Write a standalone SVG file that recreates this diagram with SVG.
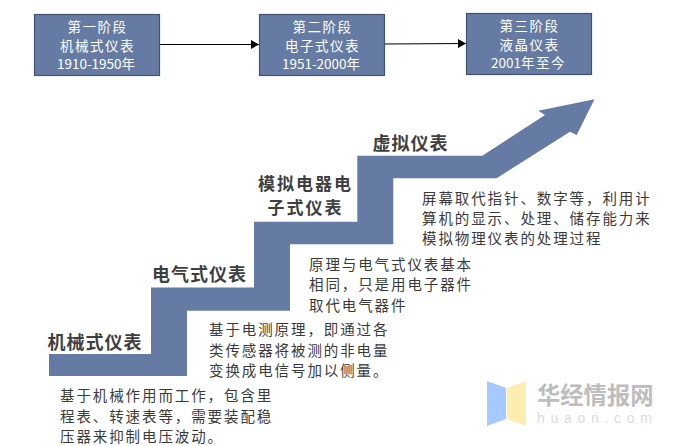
<svg xmlns="http://www.w3.org/2000/svg" width="676" height="446" viewBox="0 0 676 446">
<style>
text{font-family:"Noto Sans CJK SC","Noto Sans",sans-serif}
.box{fill:#667ba3;stroke:#435272;stroke-width:1.2}
.bt{fill:#fff;font-size:13.5px;text-anchor:middle}
.cj{letter-spacing:1.5px}
.lb{fill:#3f3f3f;font-size:18px;font-weight:700;text-anchor:middle;letter-spacing:1px}
.lb2{font-size:17px;letter-spacing:2px}
.d{fill:#3a3a3a;font-size:14.5px;letter-spacing:1.9px}
</style>
<defs><marker id="ah" markerWidth="9" markerHeight="9" refX="8" refY="4.5" orient="auto" markerUnits="userSpaceOnUse"><path d="M0 0L8 4.5L0 9z" fill="#000"/></marker></defs>
<rect width="676" height="446" fill="#fff"/>
<g id="connectors">
<line x1="159.5" y1="44.5" x2="259" y2="44.5" stroke="#000" stroke-width="1.2" marker-end="url(#ah)"/>
<line x1="385" y1="44" x2="466" y2="43.5" stroke="#000" stroke-width="1.2" marker-end="url(#ah)"/>
</g>
<g id="stage1"><rect class="box" x="34.5" y="14.5" width="125" height="61"/>
<text class="bt cj" x="97.5" y="32">第一阶段</text><text class="bt cj" x="97.5" y="50.7">机械式仪表</text><text class="bt" x="96" y="69">1910-1950年</text></g>
<g id="stage2"><rect class="box" x="259.5" y="14.5" width="125" height="61"/>
<text class="bt cj" x="322.5" y="32">第二阶段</text><text class="bt cj" x="322.5" y="50.7">电子式仪表</text><text class="bt" x="321" y="69">1951-2000年</text></g>
<g id="stage3"><rect class="box" x="466.5" y="13.5" width="125" height="61"/>
<text class="bt cj" x="529.5" y="31">第三阶段</text><text class="bt cj" x="529.5" y="49.7">液晶仪表</text><text class="bt" x="528.5" y="68">2001<tspan class="cj">年至今</tspan></text></g>
<path id="stair" fill="#667ba3" d="M49 354H151V287.5H254V221.7H357.3V155.7H482.3L545 115L538.3 110.7L594.5 99.3L576.7 135L570 131.7L496.7 178.3H393.3V244.3H290V310.7H187V376H49Z"/>
<g id="n1"><text class="lb" x="95" y="348.5">机械式仪表</text>
<text class="d" x="60" y="400.5">基于机械作用而工作，包含里</text><text class="d" x="60" y="421.5">程表、转速表等，需要装配稳</text><text class="d" x="60" y="442">压器来抑制电压波动。</text></g>
<g id="n2"><text class="lb" x="199.5" y="280.5">电气式仪表</text>
<text class="d" x="209" y="335">基于电测原理，即通过各</text><text class="d" x="209" y="355.5">类传感器将被测的非电量</text><text class="d" x="209" y="375.5">变换成电信号加以侧量。</text></g>
<g id="n3"><text class="lb lb2" x="305.5" y="190">模拟电器电</text><text class="lb lb2" x="305.5" y="214">子式仪表</text>
<text class="d" x="309" y="270">原理与电气式仪表基本</text><text class="d" x="309" y="290">相同，只是用电子器件</text><text class="d" x="309" y="310.5">取代电气器件</text></g>
<g id="n4"><text class="lb" x="410.5" y="149.5">虚拟仪表</text>
<text class="d" x="422" y="204">屏幕取代指针、数字等，利用计</text><text class="d" x="422" y="224">算机的显示、处理、储存能力来</text><text class="d" x="422" y="244">模拟物理仪表的处理过程</text></g>
<g id="watermark">
<path fill="#a6c9ff" d="M487 381L506 388V419L487 426Z"/>
<path fill="#fdeeb0" d="M526 381L507 388V419L526 426Z"/>
<text x="537" y="404" font-size="23.3" font-weight="700" fill="#bdbdbd">华经情报网</text>
<text x="537" y="423" font-size="14" fill="#dcdcdc" style="font-family:'Liberation Sans',sans-serif" textLength="115">huaon.com</text>
</g>
</svg>
